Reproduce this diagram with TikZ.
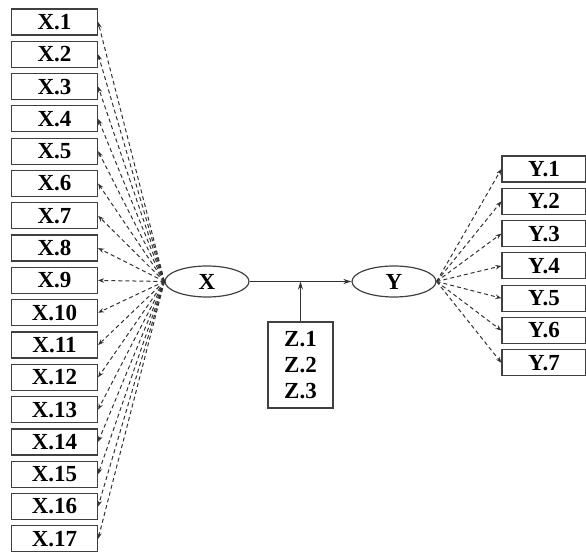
\documentclass[tikz,border=0pt]{standalone}
\usepackage{fontspec}
\setmainfont{Liberation Serif}
\usetikzlibrary{arrows.meta,shapes.geometric}
\begin{document}
\begin{tikzpicture}[x=1pt,y=-1pt,
  item/.style={draw=black!75,line width=1.2pt,minimum width=86pt,minimum height=26pt,inner sep=0pt,font=\fontsize{23}{24}\selectfont\bfseries},
  latent/.style={draw=black!75,line width=1.2pt,ellipse,minimum width=84pt,minimum height=31pt,inner sep=0pt,font=\fontsize{23}{24}\selectfont\bfseries},
  zbox/.style={draw=black!75,line width=1.2pt,minimum width=65pt,minimum height=86pt,inner sep=0pt,align=center,font=\fontsize{23}{26}\selectfont\bfseries},
  dasharrow/.style={black!80,line width=1pt,dash pattern=on 4pt off 3pt,-{Stealth[length=6pt,width=4.5pt]}},
  solidarrow/.style={black!80,line width=1.1pt,-{Stealth[length=8pt,width=5pt]}}]
\useasboundingbox (0,0) rectangle (586,553);
\foreach \i in {1,...,17}{
  \node[item] (x\i) at (54.5,{22+(\i-1)*32.3}) {X.\i};
}
\foreach \i in {1,...,7}{
  \node[item,minimum width=84pt] (y\i) at (544,{169+(\i-1)*32.3}) {Y.\i};
}
\node[latent] (X) at (207,281.5) {X};
\node[latent] (Y) at (394,281.5) {Y};
\node[zbox] (Z) at (300.5,365) {Z.1\\Z.2\\Z.3};
\coordinate (m) at (300.5,281.5);
\foreach \i in {1,...,17}{
  \draw[dasharrow] (X.west) -- (x\i.east);
}
\foreach \i in {1,...,7}{
  \draw[dasharrow] (Y.east) -- (y\i.west);
}
\draw[solidarrow] (X.east) -- (Y.west);
\draw[solidarrow] (Z.north) -- (m);
\end{tikzpicture}
\end{document}
